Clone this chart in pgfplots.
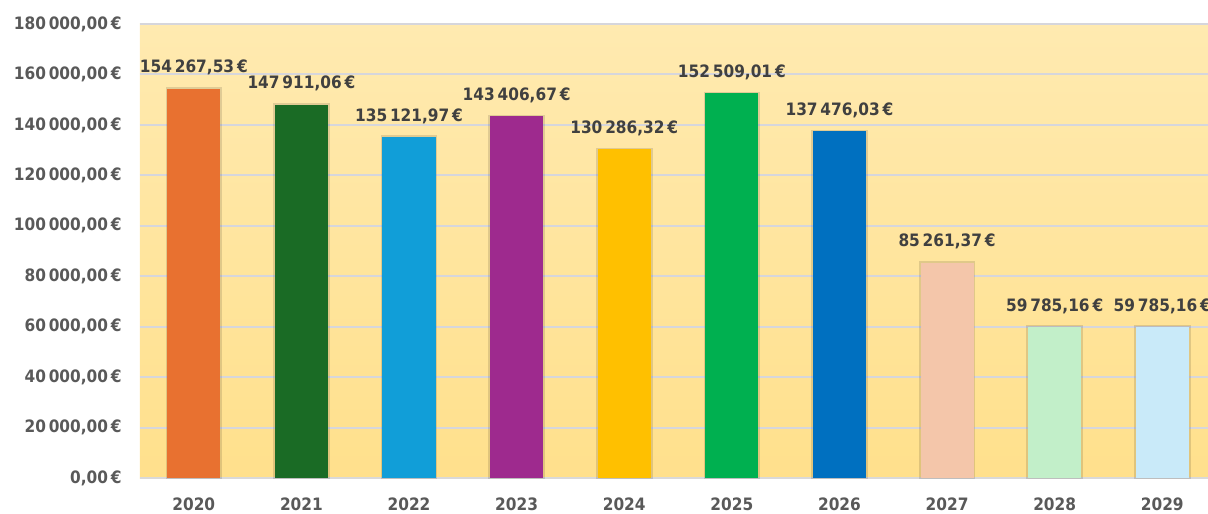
\documentclass[border=0pt]{standalone}
\usepackage{pgfplots}
\pgfplotsset{compat=1.18}
\usepackage{fontspec}
\setmainfont{DejaVu Sans Condensed}
\definecolor{c0}{HTML}{E87130}
\definecolor{c1}{HTML}{1A6B25}
\definecolor{c2}{HTML}{119ED8}
\definecolor{c3}{HTML}{9E2A8E}
\definecolor{c4}{HTML}{FFC000}
\definecolor{c5}{HTML}{00B050}
\definecolor{c6}{HTML}{0070C0}
\definecolor{c7}{HTML}{F4C6AA}
\definecolor{c8}{HTML}{C2EFC9}
\definecolor{c9}{HTML}{C9EAF9}
\definecolor{gridc}{HTML}{D6D6DC}
\definecolor{axisc}{HTML}{D9D9D9}
\definecolor{tickc}{HTML}{595959}
\definecolor{labc}{HTML}{404040}
\definecolor{bgtop}{HTML}{FFEAB0}
\definecolor{bgmid}{HTML}{FFE9AC}
\definecolor{bgbot}{HTML}{FFE08C}
\begin{document}
\begin{tikzpicture}
\begin{axis}[
  name=ax,
  scale only axis,
  width=768.96pt, height=326.88pt,
  xmin=-0.5, xmax=9.425,
  ymin=0, ymax=180000,
  ytick distance=20000,
  xtick={0,...,9},
  xticklabels={2020,2021,2022,2023,2024,2025,2026,2027,2028,2029},
  ymajorgrids,
  grid style={gridc, line width=1.4pt},
  axis x line*=bottom, axis y line*=left,
  x axis line style={axisc, line width=1.4pt, -},
  y axis line style={draw=none},
  major tick length=0pt,
  axis background/.style={shade, top color=bgtop, middle color=bgmid, bottom color=bgbot},
  ybar, bar width=38.2pt, bar shift=0pt,
  scaled y ticks=false,
  /pgf/number format/assume math mode=true,
  yticklabel={\pgfmathprintnumber[fixed, fixed zerofill, precision=2, use comma, 1000 sep={\,}, assume math mode=true]{\tick}\,€},
  yticklabel style={font=\fontsize{12.3}{14}\selectfont\bfseries, text=tickc, inner sep=0pt, anchor=east, xshift=-13pt},
  xticklabel style={font=\fontsize{12.3}{14}\selectfont\bfseries, text=tickc, inner sep=0pt, anchor=north, yshift=-14.4pt},
  nodes near coords={\pgfmathprintnumber[fixed, fixed zerofill, precision=2, use comma, 1000 sep={\,}, assume math mode=true]{\pgfplotspointmeta}\,€},
  nodes near coords style={font=\fontsize{12.3}{14}\selectfont\bfseries, text=labc, anchor=base, inner sep=0pt, yshift=11.5pt},
  every axis plot/.append style={draw=none, preaction={draw=black, draw opacity=0.12, line width=2.5pt}},
]
\addplot[fill=c0] coordinates {(0,154267.53)};
\addplot[fill=c1] coordinates {(1,147911.06)};
\addplot[fill=c2] coordinates {(2,135121.97)};
\addplot[fill=c3] coordinates {(3,143406.67)};
\addplot[fill=c4] coordinates {(4,130286.32)};
\addplot[fill=c5] coordinates {(5,152509.01)};
\addplot[fill=c6] coordinates {(6,137476.03)};
\addplot[fill=c7] coordinates {(7,85261.37)};
\addplot[fill=c8] coordinates {(8,59785.16)};
\addplot[fill=c9] coordinates {(9,59785.16)};
\end{axis}
\pgfresetboundingbox
\path[use as bounding box] ([shift={(-100.8pt,-25.2pt)}]ax.south west) rectangle ([shift={(0pt,17.28pt)}]ax.north east);
\end{tikzpicture}
\end{document}
